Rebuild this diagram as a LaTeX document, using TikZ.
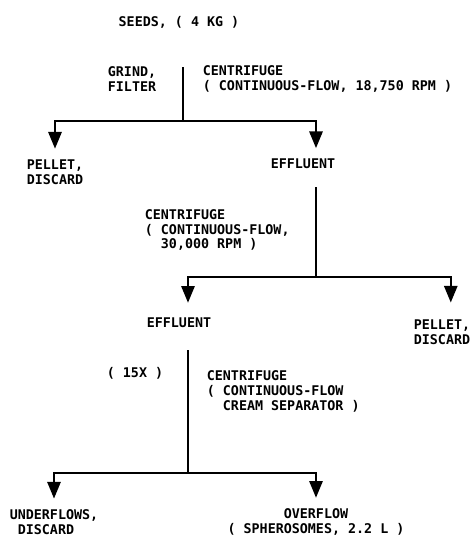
\documentclass[tikz,border=0pt]{standalone}
\usepackage{fontspec}
\setmonofont{DejaVu Sans Mono}
\usetikzlibrary{arrows.meta}

\begin{document}
\begin{tikzpicture}[x=0.02cm, y=-0.02cm, font=\ttfamily\bfseries\fontsize{7.6}{8.5}\selectfont,
  lbl/.style={inner sep=2pt, align=left},
  ln/.style={line width=1.3pt},
  ar/.style={line width=1.3pt, -{Triangle[length=9.5pt, width=7.5pt]}, shorten >=4pt}]
\useasboundingbox (0,0) rectangle (475,539);

% first run: grind, filter and centrifuge
\node[lbl] at (179,22) (seeds) {SEEDS, ( 4 KG )};
\node[lbl, anchor=east] at (160,79) (grind) {GRIND,\\FILTER};
\node[lbl, anchor=west] at (199,79) (cf1) {CENTRIFUGE\\( CONTINUOUS-FLOW, 18,750 RPM )};
\node[lbl] at (55,172) (pellet1) {PELLET,\\DISCARD};
\node[lbl] at (303,164) (eff1) {EFFLUENT};

% second run
\node[lbl, anchor=west] at (141,230) (cf2) {CENTRIFUGE\\( CONTINUOUS-FLOW,\\\phantom{( }30,000 RPM )};
\node[lbl] at (179,323) (eff2) {EFFLUENT};
\node[lbl] at (442,332) (pellet2) {PELLET,\\DISCARD};

% cream separator
\node[lbl] at (135,373) (x15) {( 15X )};
\node[lbl, anchor=west] at (203,391) (cf3) {CENTRIFUGE\\( CONTINUOUS-FLOW\\\phantom{( }CREAM SEPARATOR )};
\node[lbl] at (54,522) (under) {UNDERFLOWS,\\\phantom{U}DISCARD};
\node[lbl, align=center] at (316,522) (over) {OVERFLOW\\( SPHEROSOMES, 2.2 L )};

\coordinate (top1) at (183,67);
\coordinate (j1) at (183,121);
\coordinate (top2) at (316,187);
\coordinate (j2) at (316,277);
\coordinate (top3) at (188,350);
\coordinate (j3) at (188,473);

\draw[ln] (top1) -- (j1);
\draw[ar] (j1) -| (pellet1.north);
\draw[ar] (j1) -| (eff1.north -| j2);

\draw[ln] (top2) -- (j2);
\draw[ar, shorten >=6.5pt] (j2) -| (eff2.north -| j3);
\draw[ar, shorten >=7.5pt] (j2) -| ([xshift=5pt]pellet2.north);

\draw[ln] (top3) -- (j3);
\draw[ar] (j3) -| (under.north);
\draw[ar] (j3) -| (over.north);
\end{tikzpicture}
\end{document}
